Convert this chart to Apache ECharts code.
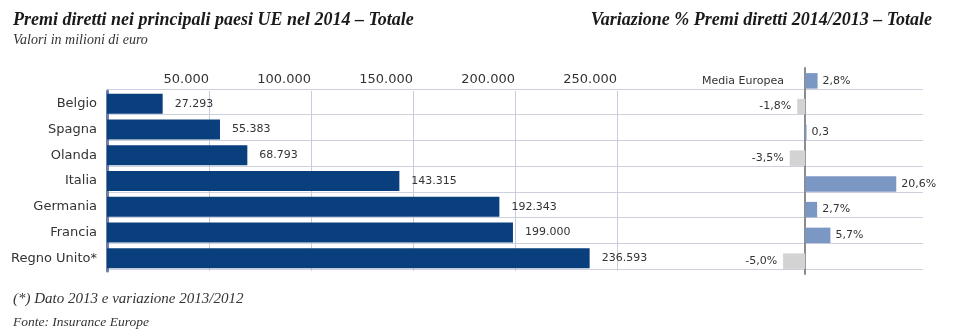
<!DOCTYPE html>
<html lang="it">
<head>
<meta charset="utf-8">
<title>Premi diretti nei principali paesi UE nel 2014</title>
<script src="https://cdn.jsdelivr.net/npm/echarts@6/dist/echarts.min.js"></script>
<style>
  html, body { margin: 0; padding: 0; background: #ffffff; }
  #chart { width: 962px; height: 335px; }
</style>
</head>
<body>
<div id="chart"></div>
<script>
// Paesi in ordine di visualizzazione (dall'alto verso il basso)
const paesi = ['Belgio', 'Spagna', 'Olanda', 'Italia', 'Germania', 'Francia', 'Regno Unito*'];
// Premi diretti 2014, milioni di euro
const premi = [27293, 55383, 68793, 143315, 192343, 199000, 236593];
// Variazione % 2014/2013
const variazioni = [-1.8, 0.3, -3.5, 20.6, 2.7, 5.7, -5.0];
const etichetteVariazioni = ['-1,8%', '0,3', '-3,5%', '20,6%', '2,7%', '5,7%', '-5,0%'];
// Media europea
const mediaLabel = 'Media Europea';
const mediaValore = 2.8;
const mediaEtichetta = '2,8%';
// Etichette dell'asse dei premi
const tickPremi = [50000, 100000, 150000, 200000, 250000];

const fmtMigliaia = v => String(Math.round(v)).replace(/\B(?=(\d{3})+(?!\d))/g, '.');

const sans = 'DejaVu Sans';
const serif = 'Liberation Serif';
const testo = '#333333';

const righeVar = [mediaLabel].concat(paesi);
const datiVar = [mediaValore].concat(variazioni).map((v, i) => ({
  value: v,
  itemStyle: { color: v < 0 ? '#d3d3d3' : '#7b97c4' },
  label: {
    position: v < 0 ? 'left' : 'right',
    distance: v < 0 ? 6 : 5,
    formatter: [mediaEtichetta].concat(etichetteVariazioni)[i]
  }
}));

const chart = echarts.init(document.getElementById('chart'), null, { renderer: 'canvas' });

chart.setOption({
  animation: false,
  backgroundColor: '#ffffff',
  title: [
    {
      text: 'Premi diretti nei principali paesi UE nel 2014 \u2013 Totale',
      left: 8, top: 6,
      textStyle: { fontFamily: serif, fontStyle: 'italic', fontWeight: 'bold', fontSize: 18, color: '#1a1a1a' }
    },
    {
      text: 'Valori in milioni di euro',
      left: 8, top: 28,
      textStyle: { fontFamily: serif, fontStyle: 'italic', fontWeight: 'normal', fontSize: 14, color: testo }
    },
    {
      text: 'Variazione % Premi diretti 2014/2013 \u2013 Totale',
      right: 25, top: 6,
      textStyle: { fontFamily: serif, fontStyle: 'italic', fontWeight: 'bold', fontSize: 18, color: '#1a1a1a' }
    },
    {
      text: '(*) Dato 2013 e variazione 2013/2012',
      left: 8, top: 287,
      textStyle: { fontFamily: serif, fontStyle: 'italic', fontWeight: 'normal', fontSize: 15, color: testo }
    },
    {
      text: 'Fonte: Insurance Europe',
      left: 8, top: 310,
      textStyle: { fontFamily: serif, fontStyle: 'italic', fontWeight: 'normal', fontSize: 13.5, color: testo }
    }
  ],
  grid: [
    // righe orizzontali comuni ai due pannelli
    { left: 107, right: 39, top: 89, height: 180 },
    // pannello premi
    { left: 107, width: 612, top: 91, height: 180 },
    // pannello variazioni
    { left: 761, right: 39, top: 68, height: 206 }
  ],
  xAxis: [
    {
      gridIndex: 0, type: 'value', min: 0, max: 1, show: false
    },
    {
      gridIndex: 1, type: 'value', position: 'top',
      min: 0, max: 300000, interval: 50000,
      axisLine: { show: false }, axisTick: { show: false },
      axisLabel: {
        margin: 5, align: 'right', fontFamily: sans, fontSize: 13, color: testo,
        formatter: v => tickPremi.includes(v) ? fmtMigliaia(v) : ''
      },
      splitLine: { show: true, showMinLine: false, showMaxLine: false, lineStyle: { color: '#c9cce0', width: 1 } }
    },
    {
      gridIndex: 2, type: 'value', min: -10, max: 26.65,
      axisLine: { show: false }, axisTick: { show: false }, axisLabel: { show: false },
      splitLine: { show: false }
    }
  ],
  yAxis: [
    {
      gridIndex: 0, type: 'category', inverse: true, data: paesi,
      axisLine: { show: false }, axisTick: { show: false }, axisLabel: { show: false },
      splitLine: { show: true, lineStyle: { color: '#cfd0dc', width: 1 } }
    },
    {
      gridIndex: 1, type: 'category', inverse: true, data: paesi,
      axisLine: { show: true, lineStyle: { color: '#6d7fa6', width: 3 } },
      axisTick: { show: false },
      axisLabel: { margin: 10, fontFamily: sans, fontSize: 13, color: testo },
      splitLine: { show: false }
    },
    {
      gridIndex: 2, type: 'category', inverse: true, data: righeVar,
      axisLine: { show: true, onZero: true, lineStyle: { color: '#8c8c8c', width: 2 } },
      axisTick: { show: false },
      axisLabel: {
        margin: -23, fontFamily: sans, fontSize: 11, color: testo,
        formatter: v => v === mediaLabel ? v : ''
      },
      splitLine: { show: false }
    }
  ],
  series: [
    {
      type: 'bar', xAxisIndex: 1, yAxisIndex: 1,
      data: premi, barWidth: 20,
      itemStyle: { color: '#0a3f7d' },
      label: {
        show: true, position: 'right', distance: 12,
        fontFamily: sans, fontSize: 11, color: testo,
        formatter: p => fmtMigliaia(p.value)
      }
    },
    {
      type: 'bar', xAxisIndex: 2, yAxisIndex: 2,
      data: datiVar, barWidth: 15.5,
      label: { show: true, fontFamily: sans, fontSize: 11, color: testo }
    }
  ]
});
</script>
</body>
</html>
